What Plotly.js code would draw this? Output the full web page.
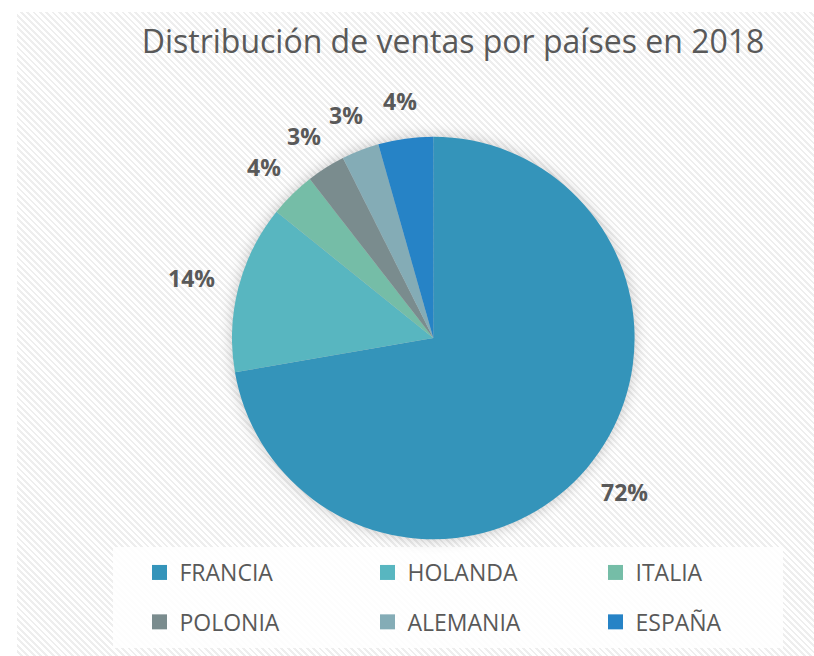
<!DOCTYPE html>
<html>
<head>
<meta charset="utf-8">
<script src="https://cdn.plot.ly/plotly-3.0.1.min.js"></script>
<style>
  html, body { margin: 0; padding: 0; background: #ffffff; }
  #wrap { position: relative; width: 814px; height: 656px; overflow: hidden; }
  #bg { position: absolute; left: 17px; top: 12px; width: 797px; height: 644px;
        background: repeating-linear-gradient(45deg, #ffffff 0px, #ffffff 2.5px, #eeeeee 2.5px, #eeeeee 4.5px); }
  #chart { position: absolute; left: 0; top: 0; width: 814px; height: 656px; }
  .pielayer { filter: drop-shadow(0px 0px 7px rgba(0,0,0,0.22)); }
</style>
</head>
<body>
<div id="wrap">
  <div id="bg"></div>
  <div id="chart"></div>
</div>
<script>
const countries = ["FRANCIA", "HOLANDA", "ITALIA", "POLONIA", "ALEMANIA", "ESPAÑA"];
const sales = [72.2, 13.5, 3.7, 3.1, 3.0, 4.4];
const colors = ["#3494BA", "#58B6C0", "#75BDA7", "#7A8C8E", "#84ACB6", "#2683C6"];
const chartTitle = "Distribución de ventas por países en 2018";

const W = 814, H = 656;
const cx = 433.3, cy = 338, r = 201.3;
const labelGap = 24, labelCharW = 16.2, labelH = 28;

const total = sales.reduce((a, b) => a + b, 0);
let cum = 0;
const annotations = sales.map((v) => {
  const mid = (cum + v / 2) / total * 2 * Math.PI;
  cum += v;
  const txt = Math.round(v / total * 100) + "%";
  const w = txt.length * labelCharW;
  const s = Math.sin(mid), c = Math.cos(mid);
  const px = cx + s * (r + labelGap) + s * w / 2;
  const py = cy - c * (r + labelGap) - c * labelH / 2;
  return {
    xref: "paper", yref: "paper",
    x: px / W, y: 1 - py / H,
    xanchor: "center", yanchor: "middle",
    text: txt,
    showarrow: false,
    font: { family: "Open Sans, sans-serif", size: 23, color: "#595959", weight: "bold" }
  };
});

const trace = {
  type: "pie",
  labels: countries,
  values: sales,
  sort: false,
  direction: "clockwise",
  rotation: 0,
  marker: { colors: colors, line: { width: 0 } },
  textinfo: "none",
  hoverinfo: "label+percent",
  automargin: false,
  domain: { x: [(cx - r) / W, (cx + r) / W], y: [1 - (cy + r) / H, 1 - (cy - r) / H] }
};

const layout = {
  width: W, height: H,
  margin: { l: 0, r: 0, t: 0, b: 0, autoexpand: false },
  paper_bgcolor: "rgba(0,0,0,0)",
  plot_bgcolor: "rgba(0,0,0,0)",
  title: {
    text: chartTitle,
    font: { family: "Open Sans, sans-serif", size: 32, color: "#595959" },
    x: 453 / W, xanchor: "center",
    y: 1 - 42 / H, yanchor: "middle"
  },
  annotations: annotations,
  showlegend: true,
  legend: {
    orientation: "h",
    x: 139.5 / W, xanchor: "left",
    y: 1 - 551 / H, yanchor: "top",
    bgcolor: "rgba(0,0,0,0)",
    font: { family: "Open Sans, sans-serif", size: 23, color: "#595959" },
    entrywidth: 183,
    entrywidthmode: "pixels",
    traceorder: "normal"
  },
  shapes: [{
    type: "rect", xref: "paper", yref: "paper",
    x0: 113 / W, x1: 783 / W, y0: 1 - 648 / H, y1: 1 - 547 / H,
    fillcolor: "rgba(255,255,255,0.88)", line: { width: 0 }, layer: "below"
  }]
};

Plotly.newPlot("chart", [trace], layout, { displayModeBar: false, staticPlot: true }).then(function (gd) {
  // styling only: widen the gap between the two legend rows, enlarge the legend squares
  const sb = gd.querySelector(".legend .scrollbox");
  if (sb) sb.removeAttribute("clip-path");
  gd.querySelectorAll(".legend .traces").forEach(function (t) {
    const m = /translate\(\s*([-\d.e]+)[ ,]+([-\d.e]+)\s*\)/.exec(t.getAttribute("transform") || "");
    if (m) {
      const x = parseFloat(m[1]), y = parseFloat(m[2]);
      if (y > 40) t.setAttribute("transform", "translate(" + x + "," + (y + 16.5) + ")");
    }
  });
  gd.querySelectorAll(".legend .legendpoints path").forEach(function (p) {
    p.setAttribute("d", "M7.5,7.5H-7.5V-7.5H7.5Z");
  });
});
</script>
</body>
</html>
